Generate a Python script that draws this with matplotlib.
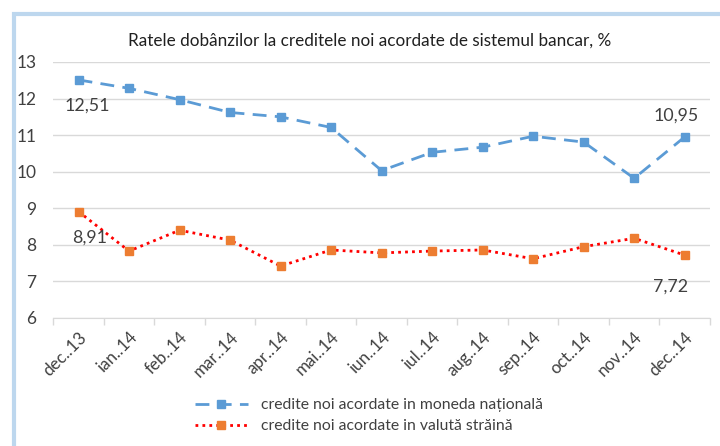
import matplotlib.pyplot as plt
from matplotlib.patches import Rectangle
import numpy as np

plt.rcParams['font.family'] = ['Lato', 'DejaVu Sans']

# date
luni = ["dec..13", "ian..14", "feb..14", "mar..14", "apr..14", "mai..14", "iun..14",
        "iul..14", "aug..14", "sep..14", "oct..14", "nov..14", "dec..14"]
moneda_nationala = [12.51, 12.28, 11.97, 11.62, 11.50, 11.21, 10.03,
                    10.53, 10.67, 10.97, 10.81, 9.82, 10.95]
valuta_straina = [8.91, 7.83, 8.40, 8.13, 7.42, 7.86, 7.78,
                  7.83, 7.86, 7.62, 7.95, 8.18, 7.72]

titlu = "Ratele dobânzilor la creditele noi acordate de sistemul bancar, %"
eticheta_mn = "credite noi acordate in moneda națională"
eticheta_vs = "credite noi acordate in valută străină"

blue = "#5B9BD5"
orange = "#ED7D31"
red = "#FF0000"
text_col = "#404040"

fig = plt.figure(figsize=(7.2, 4.46), dpi=100)
fig.patches.append(Rectangle((0.02, -0.05), 1.0, 1.018, transform=fig.transFigure,
                             fill=False, edgecolor="#BDD7EE", linewidth=3, zorder=0))

ax = fig.add_axes([0.074, 0.287, 0.912, 0.574])
x = np.arange(len(luni))

ax.plot(x, moneda_nationala, color=blue, linestyle=(0, (5, 3)), linewidth=2,
        marker="s", markersize=6, markerfacecolor=blue, markeredgecolor=blue,
        label=eticheta_mn)
ax.plot(x, valuta_straina, color=red, linestyle=(0, (1, 1.5)), linewidth=2,
        marker="s", markersize=6, markerfacecolor=orange, markeredgecolor=orange,
        label=eticheta_vs)

ax.set_ylim(6, 13)
ax.set_xlim(-0.5, len(luni) - 0.5)
ax.set_yticks(range(6, 14))
ax.yaxis.grid(True, color="#D9D9D9", linewidth=1)
ax.set_axisbelow(True)

ax.set_xticks(x)
ax.set_xticklabels(luni, rotation=45, ha="right", rotation_mode="anchor",
                   fontsize=12.2, color=text_col)
ax.tick_params(axis="x", length=0, pad=8)
ax.set_xticks(np.arange(-0.5, len(luni)), minor=True)
ax.tick_params(axis="x", which="minor", length=5, color="#D9D9D9", width=1)
ax.tick_params(axis="y", length=0, labelsize=12.5, labelcolor=text_col, pad=12)

for s in ["left", "right", "top"]:
    ax.spines[s].set_visible(False)
ax.spines["bottom"].set_color("#D9D9D9")

# etichete de date
fs = 12.8
ax.annotate("12,51", (x[0], moneda_nationala[0]), xytext=(6, -22),
            textcoords="offset points", ha="center", fontsize=fs, color=text_col)
ax.annotate("10,95", (x[-1], moneda_nationala[-1]), xytext=(-6, 12),
            textcoords="offset points", ha="center", fontsize=fs, color=text_col)
ax.annotate("8,91", (x[0], valuta_straina[0]), xytext=(8, -22),
            textcoords="offset points", ha="center", fontsize=fs, color=text_col)
ax.annotate("7,72", (x[-1], valuta_straina[-1]), xytext=(-10, -26),
            textcoords="offset points", ha="center", fontsize=fs, color=text_col)

fig.text(0.514, 0.91, titlu, ha="center", va="center", fontsize=12.3, color="#202020")

fig.legend(loc="center", bbox_to_anchor=(0.512, 0.068), frameon=False,
           fontsize=11.3, labelcolor=text_col, handlelength=3.4, labelspacing=0.45)

fig.savefig("out.png", dpi=100)
